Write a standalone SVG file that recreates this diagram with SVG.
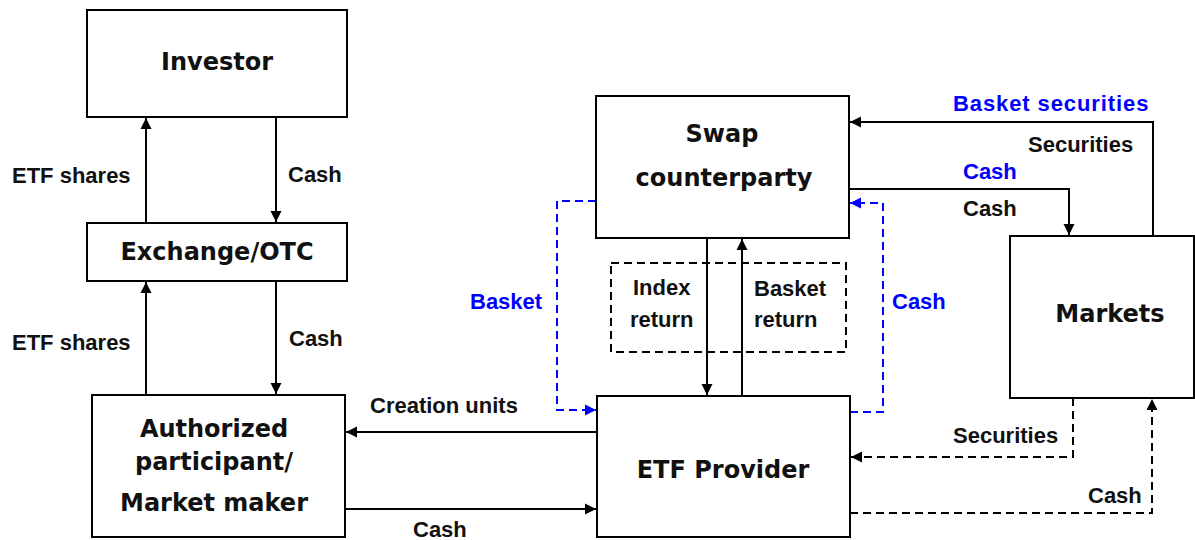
<svg xmlns="http://www.w3.org/2000/svg" width="1195" height="540" viewBox="0 0 1195 540">
<defs>
<style>
.box{fill:#fff;stroke:#000;stroke-width:2}
.nt{font-family:"DejaVu Sans",sans-serif;font-weight:bold;font-size:24px;fill:#111;text-anchor:middle}
.lb{font-family:"Liberation Sans",Arial,sans-serif;font-weight:bold;font-size:22px;fill:#111}
.bl{fill:#0000ff}
.c{fill:none;stroke:#000;stroke-width:2}
.d{fill:none;stroke:#000;stroke-width:2;stroke-dasharray:8,5}
.bd{fill:none;stroke:#0000ff;stroke-width:2;stroke-dasharray:8,5}
</style>
<marker id="a" viewBox="0 0 10 10" refX="10" refY="5" markerUnits="userSpaceOnUse" markerWidth="11" markerHeight="12" orient="auto"><path d="M0,0L10,5L0,10z" fill="#000"/></marker>
<marker id="ab" viewBox="0 0 10 10" refX="10" refY="5" markerUnits="userSpaceOnUse" markerWidth="11" markerHeight="12" orient="auto"><path d="M0,0L10,5L0,10z" fill="#0000ff"/></marker>
</defs>
<rect width="1195" height="540" fill="#fff"/>
<g id="connectors">
<path class="c" d="M146,223V118" marker-end="url(#a)"/>
<path class="c" d="M276,117V222" marker-end="url(#a)"/>
<path class="c" d="M146,395V282" marker-end="url(#a)"/>
<path class="c" d="M276,281V394" marker-end="url(#a)"/>
<path class="c" d="M597,432H346" marker-end="url(#a)"/>
<path class="c" d="M345,509H596" marker-end="url(#a)"/>
<path class="c" d="M707,238V395" marker-end="url(#a)"/>
<path class="c" d="M742,396V239" marker-end="url(#a)"/>
<path class="bd" d="M596,201H557V410H596" marker-end="url(#ab)"/>
<path class="bd" d="M850,412H883V203H850" marker-end="url(#ab)"/>
<path class="c" d="M1153,236V122H850" marker-end="url(#a)"/>
<path class="c" d="M849,189H1069V235" marker-end="url(#a)"/>
<path class="d" d="M1073,398V457H851" marker-end="url(#a)"/>
<path class="d" d="M850,513H1152V399" marker-end="url(#a)"/>
<rect class="d" x="611" y="263" width="235" height="89"/>
<text class="lb" x="12" y="183">ETF shares</text>
<text class="lb" x="288" y="182">Cash</text>
<text class="lb" x="12" y="350">ETF shares</text>
<text class="lb" x="289" y="346">Cash</text>
<text class="lb" x="370" y="413">Creation units</text>
<text class="lb" x="413" y="537">Cash</text>
<text class="lb bl" x="470" y="309">Basket</text>
<text class="lb" x="633" y="295">Index</text>
<text class="lb" x="630" y="327">return</text>
<text class="lb" x="754" y="296">Basket</text>
<text class="lb" x="754" y="327">return</text>
<text class="lb bl" x="892" y="309">Cash</text>
<text class="lb bl" x="953" y="111" letter-spacing="0.9">Basket securities</text>
<text class="lb" x="1028" y="152">Securities</text>
<text class="lb bl" x="963" y="179">Cash</text>
<text class="lb" x="963" y="216">Cash</text>
<text class="lb" x="953" y="443">Securities</text>
<text class="lb" x="1088" y="503">Cash</text>
</g>
<g id="investor"><rect class="box" x="87" y="10" width="260" height="107"/><text class="nt" x="217" y="70">Investor</text></g>
<g id="exchange"><rect class="box" x="87" y="223" width="260" height="58"/><text class="nt" x="217" y="260">Exchange/OTC</text></g>
<g id="ap"><rect class="box" x="92" y="395" width="253" height="142"/><text class="nt" x="214" y="437">Authorized</text><text class="nt" x="214" y="470">participant/</text><text class="nt" x="214" y="511">Market maker</text></g>
<g id="swap"><rect class="box" x="596" y="96" width="253" height="142"/><text class="nt" x="722" y="142">Swap</text><text class="nt" x="724" y="186">counterparty</text></g>
<g id="etf"><rect class="box" x="597" y="396" width="253" height="141"/><text class="nt" x="723" y="478">ETF Provider</text></g>
<g id="markets"><rect class="box" x="1010" y="236" width="184" height="162"/><text class="nt" x="1110" y="322">Markets</text></g>
</svg>
